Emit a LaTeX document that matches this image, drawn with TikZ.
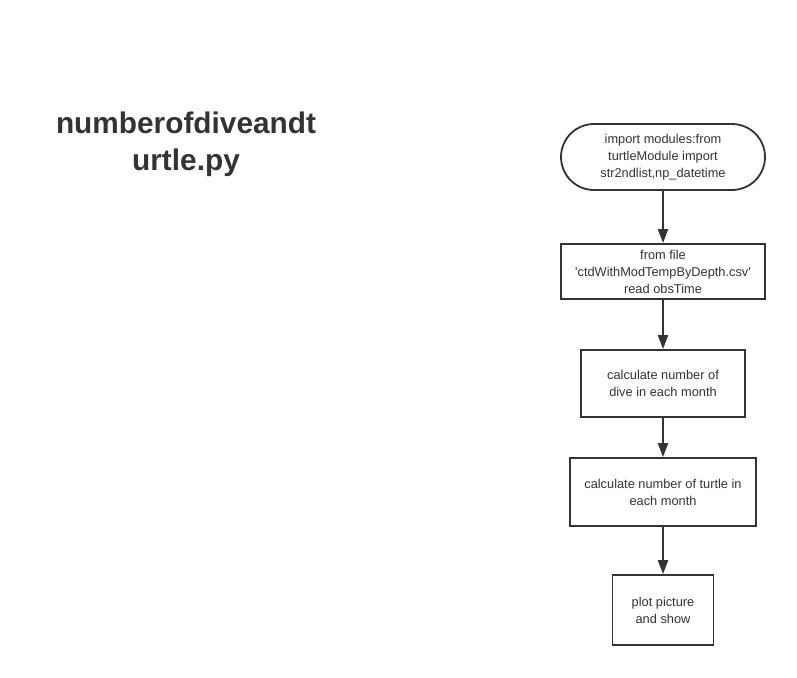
\documentclass[tikz,border=0pt]{standalone}
\usepackage{fontspec}
\setmainfont{Liberation Sans}
\usepackage{xcolor}
\usetikzlibrary{shapes,positioning,arrows.meta}
\definecolor{ink}{HTML}{333333}
\tikzset{blk/.style={rectangle,draw=ink,line width=1.8pt,text=ink,align=center,inner sep=2pt,font=\fontsize{12.8}{17}\selectfont},
  term/.style={blk,rounded corners=33pt},
  flow/.style={draw=ink,line width=2pt,-{Triangle[length=14pt,width=10pt]}}}

\begin{document}
\begin{tikzpicture}[x=1pt,y=-1pt]
    \useasboundingbox (0,0) rectangle (797,677);
    \node[text=ink,align=center,font=\bfseries\fontsize{29.8}{37}\selectfont] (title) at (186,144) {numberofdiveandt\\urtle.py};

    \node[term,minimum width=204pt,minimum height=66pt] (a) at (663,157) {import modules:from\\turtleModule import\\str2ndlist,np\_datetime};
    \node[blk,minimum width=204pt,minimum height=55pt] (b) at (663,271.5) {from file\\\textquotesingle ctdWithModTempByDepth.csv\textquotesingle\\read obsTime};
    \node[blk,minimum width=164pt,minimum height=67pt] (c) at (663,383.5) {calculate number of\\dive in each month};
    \node[blk,minimum width=186pt,minimum height=68pt] (d) at (663,492) {calculate number of turtle in\\each month};
    \node[blk,minimum width=101pt,minimum height=70pt] (e) at (663,610) {plot picture\\and show};

    \draw [flow] (a) to []node[]{} (b);
    \draw [flow] (b) to []node[]{} (c);
    \draw [flow] (c) to []node[]{} (d);
    \draw [flow] (d) to []node[]{} (e);
\end{tikzpicture}
\end{document}
